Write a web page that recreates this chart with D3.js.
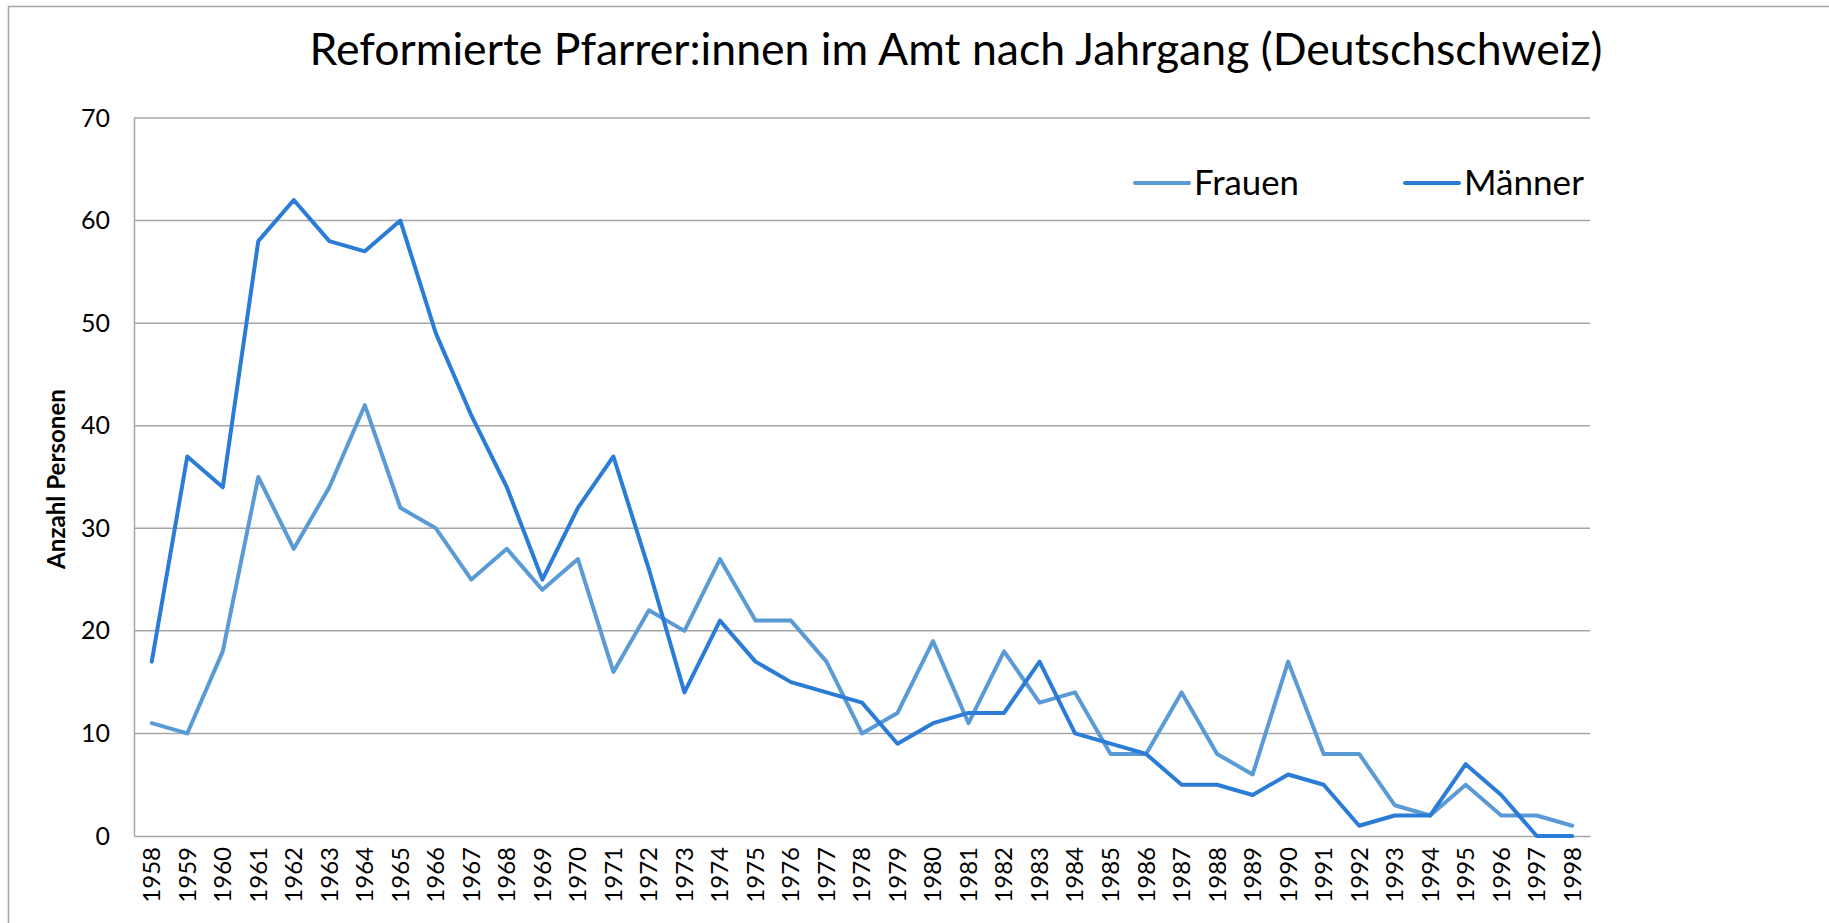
<!DOCTYPE html>
<html>
<head>
<meta charset="utf-8">
<script src="https://cdn.jsdelivr.net/npm/d3@7"></script>
<style>
  body { margin: 0; background: #fff; }
  text { font-family: Lato, "Open Sans", sans-serif; }
</style>
</head>
<body>
<svg class="chart" width="1829" height="923"></svg>
<script>
// data
var years = [1958, 1959, 1960, 1961, 1962, 1963, 1964, 1965, 1966, 1967,
             1968, 1969, 1970, 1971, 1972, 1973, 1974, 1975, 1976, 1977,
             1978, 1979, 1980, 1981, 1982, 1983, 1984, 1985, 1986, 1987,
             1988, 1989, 1990, 1991, 1992, 1993, 1994, 1995, 1996, 1997, 1998];
var frauen = [11, 10, 18, 35, 28, 34, 42, 32, 30, 25,
              28, 24, 27, 16, 22, 20, 27, 21, 21, 17,
              10, 12, 19, 11, 18, 13, 14, 8, 8, 14,
              8, 6, 17, 8, 8, 3, 2, 5, 2, 2, 1];
var maenner = [17, 37, 34, 58, 62, 58, 57, 60, 49, 41,
               34, 25, 32, 37, 26, 14, 21, 17, 15, 14,
               13, 9, 11, 12, 12, 17, 10, 9, 8, 5,
               5, 4, 6, 5, 1, 2, 2, 7, 4, 0, 0];
var yTicks = [0, 10, 20, 30, 40, 50, 60, 70];
var seriesNames = ["Frauen", "Männer"];
var seriesColors = ["#5B9BD5", "#2B7CD6"];

var svg = d3.select("svg.chart");
var W = 1829, H = 923;

// outer chart frame (right and bottom edges run off the picture)
svg.append("rect")
    .attr("x", 8.5).attr("y", 6.5)
    .attr("width", W).attr("height", H)
    .attr("fill", "none")
    .attr("stroke", "#a6a6a6")
    .attr("stroke-width", 1.5);

var margin = {top: 118, left: 134, right: 1590, bottom: 836};

var x = d3.scaleBand()
    .domain(years)
    .range([margin.left, margin.right]);
var y = d3.scaleLinear()
    .domain([0, 70])
    .range([margin.bottom, margin.top]);

function fit(sel, target) {
    var len = sel.node().getComputedTextLength();
    var fs = parseFloat(sel.style("font-size"));
    sel.style("font-size", (fs * target / len) + "px");
}

// title
var title = svg.append("text")
    .attr("x", 956).attr("y", 65)
    .attr("text-anchor", "middle")
    .style("font-size", "44px")
    .text("Reformierte Pfarrer:innen im Amt nach Jahrgang (Deutschschweiz)");
fit(title, 1293);

// gridlines
svg.append("g")
    .selectAll("line")
    .data(yTicks.slice(1))
    .enter()
    .append("line")
      .attr("x1", margin.left).attr("x2", margin.right)
      .attr("y1", function(d) { return y(d); })
      .attr("y2", function(d) { return y(d); })
      .attr("stroke", "#a6a6a6")
      .attr("stroke-width", 1.5);

// y axis
var yAxis = svg.append("g")
    .attr("transform", "translate(" + margin.left + ",0)")
    .call(d3.axisLeft(y).tickValues(yTicks).tickSize(0).tickPadding(24));
yAxis.select(".domain").attr("stroke", "#a6a6a6").attr("stroke-width", 1.5);
yAxis.selectAll("text")
    .style("font-family", "Lato, sans-serif")
    .style("font-size", "25px")
    .attr("fill", "#000");

// x axis
var xAxis = svg.append("g")
    .attr("transform", "translate(0," + margin.bottom + ")")
    .call(d3.axisBottom(x).tickSize(0));
xAxis.select(".domain").attr("stroke", "#a6a6a6").attr("stroke-width", 1.5);
xAxis.selectAll("text")
    .style("font-family", "Lato, sans-serif")
    .style("font-size", "24px")
    .attr("fill", "#000")
    .attr("transform", "rotate(-90)")
    .attr("x", -11)
    .attr("y", 0)
    .attr("dy", "0.35em")
    .style("text-anchor", "end");

// y axis title
var yTitle = svg.append("text")
    .attr("transform", "translate(65,479) rotate(-90)")
    .attr("text-anchor", "middle")
    .style("font-weight", "bold")
    .style("font-size", "20px")
    .text("Anzahl Personen");
fit(yTitle, 180);

// lines
var line = d3.line()
    .x(function(d, i) { return x(years[i]) + x.bandwidth() / 2; })
    .y(function(d) { return y(d); });

[frauen, maenner].forEach(function(s, i) {
    svg.append("path")
        .datum(s)
        .attr("d", line)
        .attr("fill", "none")
        .attr("stroke", seriesColors[i])
        .attr("stroke-width", 4)
        .attr("stroke-linejoin", "round")
        .attr("stroke-linecap", "round");
});

// legend
var legendX = [1135, 1405];
seriesNames.forEach(function(name, i) {
    var g = svg.append("g").attr("transform", "translate(" + legendX[i] + ",183)");
    g.append("line")
        .attr("x1", 0).attr("x2", 54)
        .attr("stroke", seriesColors[i])
        .attr("stroke-width", 4)
        .attr("stroke-linecap", "round");
    var t = g.append("text")
        .attr("x", 59).attr("y", 0)
        .attr("dy", "0.35em")
        .style("font-size", "32px")
        .text(name);
    fit(t, i == 0 ? 105 : 120);
});
</script>
</body>
</html>
